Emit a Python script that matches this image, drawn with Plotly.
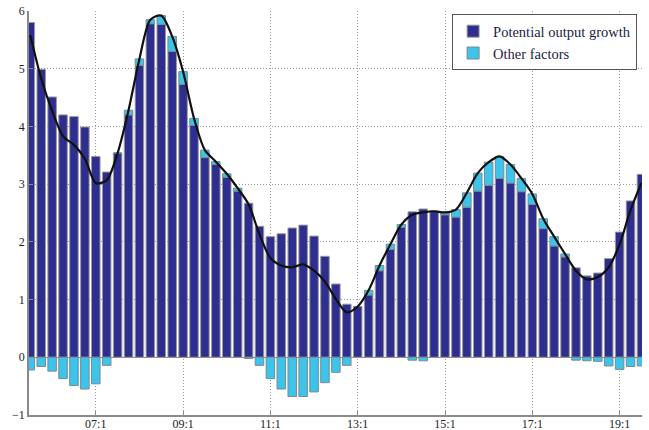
import plotly.graph_objects as go

quarters = [f"{y:02d}:{q}" for y in range(5, 20) for q in range(1, 5)][2:59]

potential = [5.80, 4.99, 4.51, 4.20, 4.17, 3.99, 3.48, 3.21, 3.54, 4.20,
             5.06, 5.78, 5.77, 5.30, 4.73, 4.02, 3.46, 3.34, 3.12, 2.88,
             2.67, 2.27, 2.09, 2.14, 2.24, 2.29, 2.10, 1.75, 1.27, 0.92,
             0.88, 1.08, 1.50, 1.87, 2.25, 2.52, 2.57, 2.53, 2.47, 2.43,
             2.60, 2.88, 2.98, 3.10, 3.02, 2.87, 2.65, 2.23, 1.93, 1.74,
             1.55, 1.41, 1.46, 1.71, 2.17, 2.71, 3.17]

other = [-0.22, -0.16, -0.24, -0.37, -0.49, -0.55, -0.46, -0.14, 0.00, 0.08,
         0.11, 0.07, 0.15, 0.26, 0.22, 0.12, 0.13, 0.05, 0.06, 0.05,
         -0.02, -0.14, -0.37, -0.55, -0.68, -0.68, -0.60, -0.44, -0.26, -0.14,
         0.00, 0.08, 0.09, 0.09, 0.05, -0.05, -0.06, 0.00, 0.04, 0.13,
         0.25, 0.31, 0.40, 0.38, 0.32, 0.23, 0.18, 0.17, 0.16, 0.05,
         -0.05, -0.06, -0.07, -0.15, -0.21, -0.16, -0.15]

total = [p + o for p, o in zip(potential, other)]

tick_labels = ["07:1", "09:1", "11:1", "13:1", "15:1", "17:1", "19:1"]
y_ticks = [-1, 0, 1, 2, 3, 4, 5, 6]

font = "Liberation Serif, Times New Roman, serif"

fig = go.Figure()
fig.add_trace(go.Bar(x=quarters, y=potential, name="Potential output growth",
                     marker=dict(color="#2D2E8F", line=dict(color="#9A9A9A", width=1)),
                     width=0.78))
fig.add_trace(go.Bar(x=quarters, y=other, name="Other factors",
                     marker=dict(color="#3CC4EA", line=dict(color="#7A8A90", width=1)),
                     width=0.78))
fig.add_trace(go.Scatter(x=quarters, y=total, mode="lines", showlegend=False,
                         line=dict(color="#111111", width=2.2, shape="spline", smoothing=0.8)))

fig.update_layout(
    template="none",
    width=649, height=430,
    margin=dict(l=29, r=7, t=11, b=15, autoexpand=False),
    barmode="relative",
    plot_bgcolor="white", paper_bgcolor="white",
    font=dict(family=font, size=12, color="#222222"),
    legend=dict(x=0.992, y=0.992, xanchor="right", yanchor="top",
                bgcolor="white", bordercolor="#555555", borderwidth=1,
                font=dict(family=font, size=14.5, color="#222244"),
                tracegroupgap=0, itemwidth=30),
    xaxis=dict(type="category", range=[-0.12, 56.05], automargin=False,
               tickmode="array", tickvals=tick_labels, ticktext=tick_labels,
               showgrid=True, gridcolor="#9A9A9A", griddash="1px,2px", gridwidth=1,
               showline=True, linecolor="#8A8A8A", linewidth=1.5,
               ticks="inside", ticklen=4, tickcolor="#8A8A8A",
               ticklabelstandoff=-3,
               tickfont=dict(family=font, size=12, color="#222222")),
    yaxis=dict(range=[-1, 6], tickmode="array", tickvals=y_ticks, automargin=False,
               ticktext=["\u22121", "0", "1", "2", "3", "4", "5", "6"],
               showgrid=True, gridcolor="#9A9A9A", griddash="1px,2px", gridwidth=1,
               zeroline=True, zerolinecolor="#8A8A8A", zerolinewidth=1,
               showline=True, linecolor="#8A8A8A", linewidth=1.5,
               ticks="inside", ticklen=4, tickcolor="#8A8A8A",
               tickfont=dict(family=font, size=12, color="#222222")),
)

fig.write_html("out.html", config={"displayModeBar": False},
               post_script="document.body.style.margin='0';document.body.style.overflow='hidden';")
